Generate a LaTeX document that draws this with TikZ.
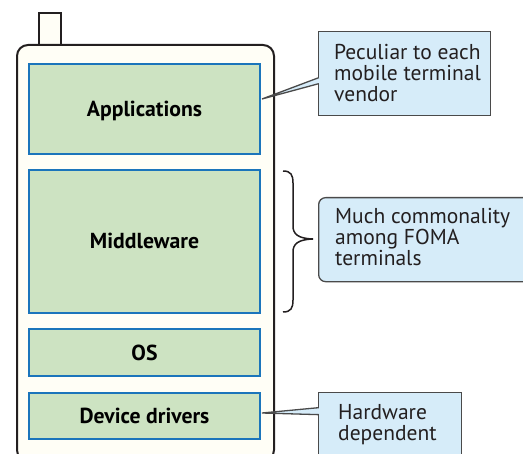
\documentclass[tikz,border=0pt]{standalone}
\usepackage{fontspec}
\setmainfont{PT Sans}
\usetikzlibrary{calc}
\definecolor{phonefill}{HTML}{FFFEF6}
\definecolor{phoneline}{HTML}{231F20}
\definecolor{layergreen}{HTML}{CDE3C2}
\definecolor{layerblue}{HTML}{1B75BB}
\definecolor{calloutfill}{HTML}{D6ECF9}
\definecolor{calloutline}{HTML}{4A4A4A}
\definecolor{textdark}{HTML}{231F20}
\begin{document}
\begin{tikzpicture}[x=1bp,y=-1bp,
  phonebody/.style={draw=phoneline, line width=2bp, fill=phonefill, rounded corners=11bp, inner sep=0pt, anchor=north west},
  antennabox/.style={draw=phoneline, line width=2bp, fill=phonefill, inner sep=0pt, anchor=north west, minimum width=22bp, minimum height=34bp},
  layer/.style={draw=layerblue, line width=2bp, fill=layergreen, minimum width=231bp, inner sep=0pt, text height=15bp, text depth=0bp, text=black, font=\bfseries\fontsize{21.8}{24}\selectfont},
  calloutbox/.style={draw=calloutline, line width=1.3bp, fill=calloutfill, inner sep=0pt, anchor=north west},
  callouttext/.style={align=left, inner sep=0pt, anchor=north west, text=textdark, font=\fontsize{21.6}{21.2}\selectfont},
  wedge/.style={draw=calloutline, line width=1.3bp, fill=calloutfill, line join=miter},
  bracestyle/.style={draw=phoneline, line width=1.5bp}
]
\useasboundingbox (0,0) rectangle (523,454);
\clip (0,0) rectangle (523,454);
% phone
\node[antennabox] (antenna) at (38,12) {};
\node[phonebody, minimum width=257bp, minimum height=416bp] (phone) at (16,44) {};
% layers
\node[layer, minimum height=90bp] (app) at (144.5,109) {Applications};
\node[layer, minimum height=143bp] (mid) at (144.5,241.5) {Middleware};
\node[layer, minimum height=47bp] (os) at (144.5,352.5) {OS};
\node[layer, minimum height=46bp] (drv) at (144.5,416) {Device drivers};
% callout 1
\node[calloutbox, minimum width=172bp, minimum height=84bp] (c1) at (318,31) {};
\node[callouttext] (c1t) at (334,44) {Peculiar to each\\mobile terminal\\vendor};
\path[wedge] ($(c1.west)+(0.8,4)$) -- ($(app.east)+(1,-10)$) -- ($(c1.west)+(0.8,10)$);
% callout 2
\node[calloutbox, rounded corners=7bp, minimum width=230bp, minimum height=84bp] (c2) at (318,197) {};
\node[callouttext] (c2t) at (335,208) {Much commonality\\among FOMA\\terminals};
% brace
\coordinate (btop) at (283,171);
\coordinate (bbot) at (283,312);
\coordinate (btip) at (313,239);
\draw[bracestyle] (btop) .. controls (291,171) and (293,175) .. (293,183) -- (293,226)
  .. controls (293,234) and (298,238.5) .. (btip)
  .. controls (298,239.5) and (293,244) .. (293,252) -- (293,300)
  .. controls (293,308) and (291,312) .. (bbot);
% callout 3
\node[calloutbox, minimum width=143bp, minimum height=80bp] (c3) at (318,392) {};
\node[callouttext] (c3t) at (338,404) {Hardware\\dependent};
\path[wedge] ($(c3.west)+(0.8,-25)$) -- ($(drv.east)+(1,-3)$) -- ($(c3.west)+(0.8,-18)$);
\end{tikzpicture}
\end{document}
